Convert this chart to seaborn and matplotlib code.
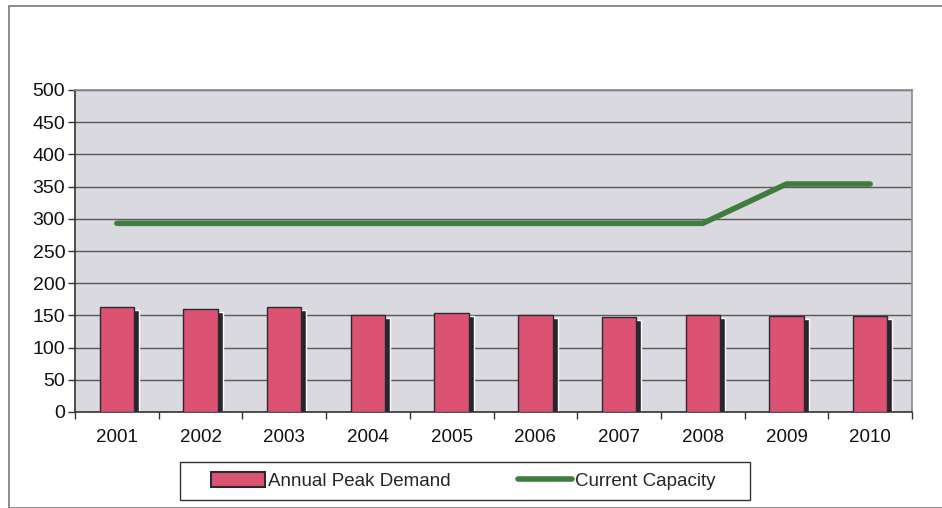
import matplotlib
matplotlib.use("Agg")
import matplotlib.pyplot as plt
import matplotlib.transforms as mtransforms
from matplotlib.patches import Rectangle, Patch
from matplotlib.lines import Line2D
import seaborn as sns
import pandas as pd
import numpy as np

years = ["2001", "2002", "2003", "2004", "2005", "2006", "2007", "2008", "2009", "2010"]
peak_demand = [163, 160, 163, 151, 153, 150, 148, 150, 149, 149]
capacity = [293, 293, 293, 293, 293, 293, 293, 293, 354, 354]
y_ticks = [0, 50, 100, 150, 200, 250, 300, 350, 400, 450, 500]

sns.set_theme(style="white")
plt.rcParams["font.family"] = ["Liberation Sans", "DejaVu Sans"]

df = pd.DataFrame({"Year": years, "Demand": peak_demand, "Capacity": capacity})

W, H = 942, 508
fig = plt.figure(figsize=(W / 100, H / 100), dpi=100)
ax = fig.add_axes([75 / W, 96 / H, 837 / W, 322 / H])
ax.set_facecolor("#D9D9DF")

# drop shadow bars, shifted a few pixels right and down
sns.barplot(data=df, x="Year", y="Demand", color="#26262E", width=0.41,
            saturation=1, ax=ax, zorder=2)
shadow_patches = list(ax.patches)
shift = mtransforms.ScaledTranslation(5 / 100, -3 / 100, fig.dpi_scale_trans)
for p in shadow_patches:
    p.set_transform(ax.transData + shift)
    p.set_clip_on(True)

sns.barplot(data=df, x="Year", y="Demand", color="#DB5272", width=0.41,
            saturation=1, edgecolor="#2A2A30", linewidth=1.0, ax=ax, zorder=3)

sns.lineplot(x=np.arange(len(years)), y=capacity, color="#3E7D3E",
             linewidth=4.0, ax=ax, zorder=4)

ax.set_xlim(-0.5, len(years) - 0.5)
ax.set_ylim(0, 500)
ax.set_yticks(y_ticks)
ax.set_xticks(range(len(years)))
ax.set_xticklabels(years)
ax.set_xticks(np.arange(-0.5, len(years), 1.0), minor=True)
ax.set_xlabel("")
ax.set_ylabel("")
ax.yaxis.grid(True, color="#5A5A5A", linewidth=1.0, zorder=1)
ax.set_axisbelow(True)

ax.tick_params(axis="y", which="major", direction="out", length=5, width=1,
               color="#333333", labelsize=14, labelcolor="#111111", pad=2, left=True)
ax.tick_params(axis="x", which="major", length=0, labelsize=13.5,
               labelcolor="#111111", pad=12)
ax.tick_params(axis="x", which="minor", direction="out", length=5, width=1,
               color="#333333", bottom=True)

for side in ["left", "bottom"]:
    ax.spines[side].set_color("#333333")
    ax.spines[side].set_linewidth(1.2)
for side in ["top", "right"]:
    ax.spines[side].set_color("#8A8A8A")
    ax.spines[side].set_linewidth(1.2)

handles = [
    Patch(facecolor="#DB5272", edgecolor="#2A2A30", linewidth=1.5),
    Line2D([0], [0], color="#3E7D3E", linewidth=4.0),
]
leg = fig.legend(handles, ["Annual Peak Demand", "Current Capacity"],
                 loc="center", bbox_to_anchor=(463 / W, 1 - 481 / H),
                 ncol=2, fontsize=13.5, frameon=False,
                 handlelength=2.9, handletextpad=0.15,
                 columnspacing=3.6, borderpad=0.5, borderaxespad=0,
                 handleheight=0.8)

# legend box
fig.patches.append(Rectangle((180 / W, 1 - 500 / H), 570 / W, 38 / H,
                             transform=fig.transFigure, fill=False,
                             edgecolor="#333333", linewidth=1.0))

# outer chart frame
fig.patches.append(Rectangle((9 / W, 0), 1.0, 1 - 6 / H, transform=fig.transFigure,
                             fill=False, edgecolor="#777777", linewidth=1.2))

fig.savefig("out.png", dpi=100)
